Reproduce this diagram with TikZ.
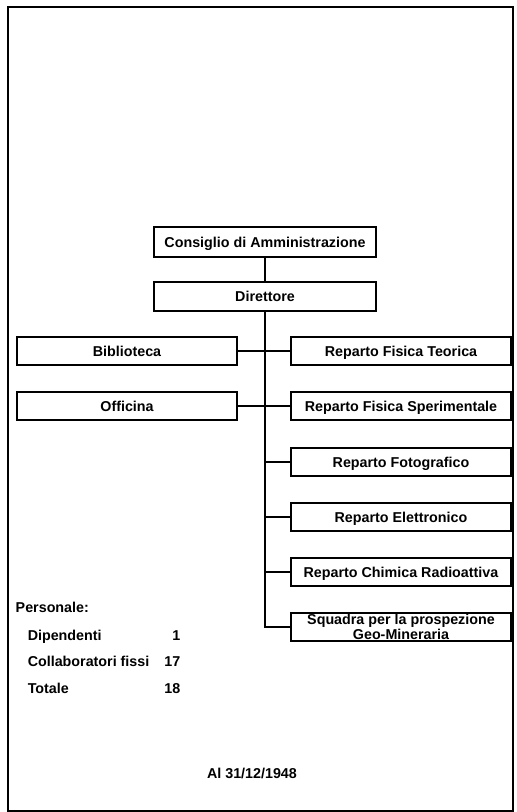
\documentclass[tikz,border=0pt]{standalone}
\usepackage{fontspec}
\setmainfont{Liberation Sans}
\usepackage{tikz}

\begin{document}
\begin{tikzpicture}[
    x=1pt, y=-1pt,
    line width=1.5pt,
    box/.style={rectangle, draw, line width=1.5pt, align=center,
                font=\bfseries\fontsize{14.3}{15}\selectfont,
                text height=10pt, text depth=0pt,
                minimum width=220pt, minimum height=28pt, inner sep=0pt},
    txt/.style={anchor=base west, inner sep=0pt,
                font=\bfseries\fontsize{14.3}{15}\selectfont},
    num/.style={anchor=base east, inner sep=0pt,
                font=\bfseries\fontsize{14.3}{15}\selectfont}
]
\useasboundingbox (0,0) rectangle (517,812);
\draw[line width=1.1pt] (8,7) rectangle (513,811);

\node[box, minimum width=222pt, minimum height=30pt] (cda) at (265,242) {Consiglio di Amministrazione};
\node[box, minimum width=222pt, minimum height=29pt] (dir) at (265,296.5) {Direttore};

\node[box] (bib) at (127,351) {Biblioteca};
\node[box] (off) at (127,406) {Officina};

\node[box] (teo) at (401,351) {Reparto Fisica Teorica};
\node[box] (spe) at (401,406) {Reparto Fisica Sperimentale};
\node[box] (foto) at (401,462) {Reparto Fotografico};
\node[box] (ele) at (401,517) {Reparto Elettronico};
\node[box] (chim) at (401,572) {Reparto Chimica Radioattiva};
\node[box, text height=, text depth=, font=\bfseries\fontsize{14.3}{10}\selectfont] (squ) at (401,627)
    {Squadra per la prospezione\\Geo-Mineraria};

\draw (cda) -- (dir);
\draw (dir.south) |- (squ.west);
\draw (bib) -- (teo);
\draw (off) -- (spe);
\draw (foto.west) -- (foto.west -| dir.south);
\draw (ele.west) -- (ele.west -| dir.south);
\draw (chim.west) -- (chim.west -| dir.south);

\node[txt] (pers) at (15,612) {Personale:};
\node[txt] (dip) at (27,640) {Dipendenti};
\node[num] (dipn) at (181,640) {1};
\node[txt] (coll) at (27,666) {Collaboratori fissi};
\node[num] (colln) at (181,666) {17};
\node[txt] (tot) at (27,693) {Totale};
\node[num] (totn) at (181,693) {18};

\node[txt, anchor=base] (data) at (252,778) {Al 31/12/1948};
\end{tikzpicture}
\end{document}
